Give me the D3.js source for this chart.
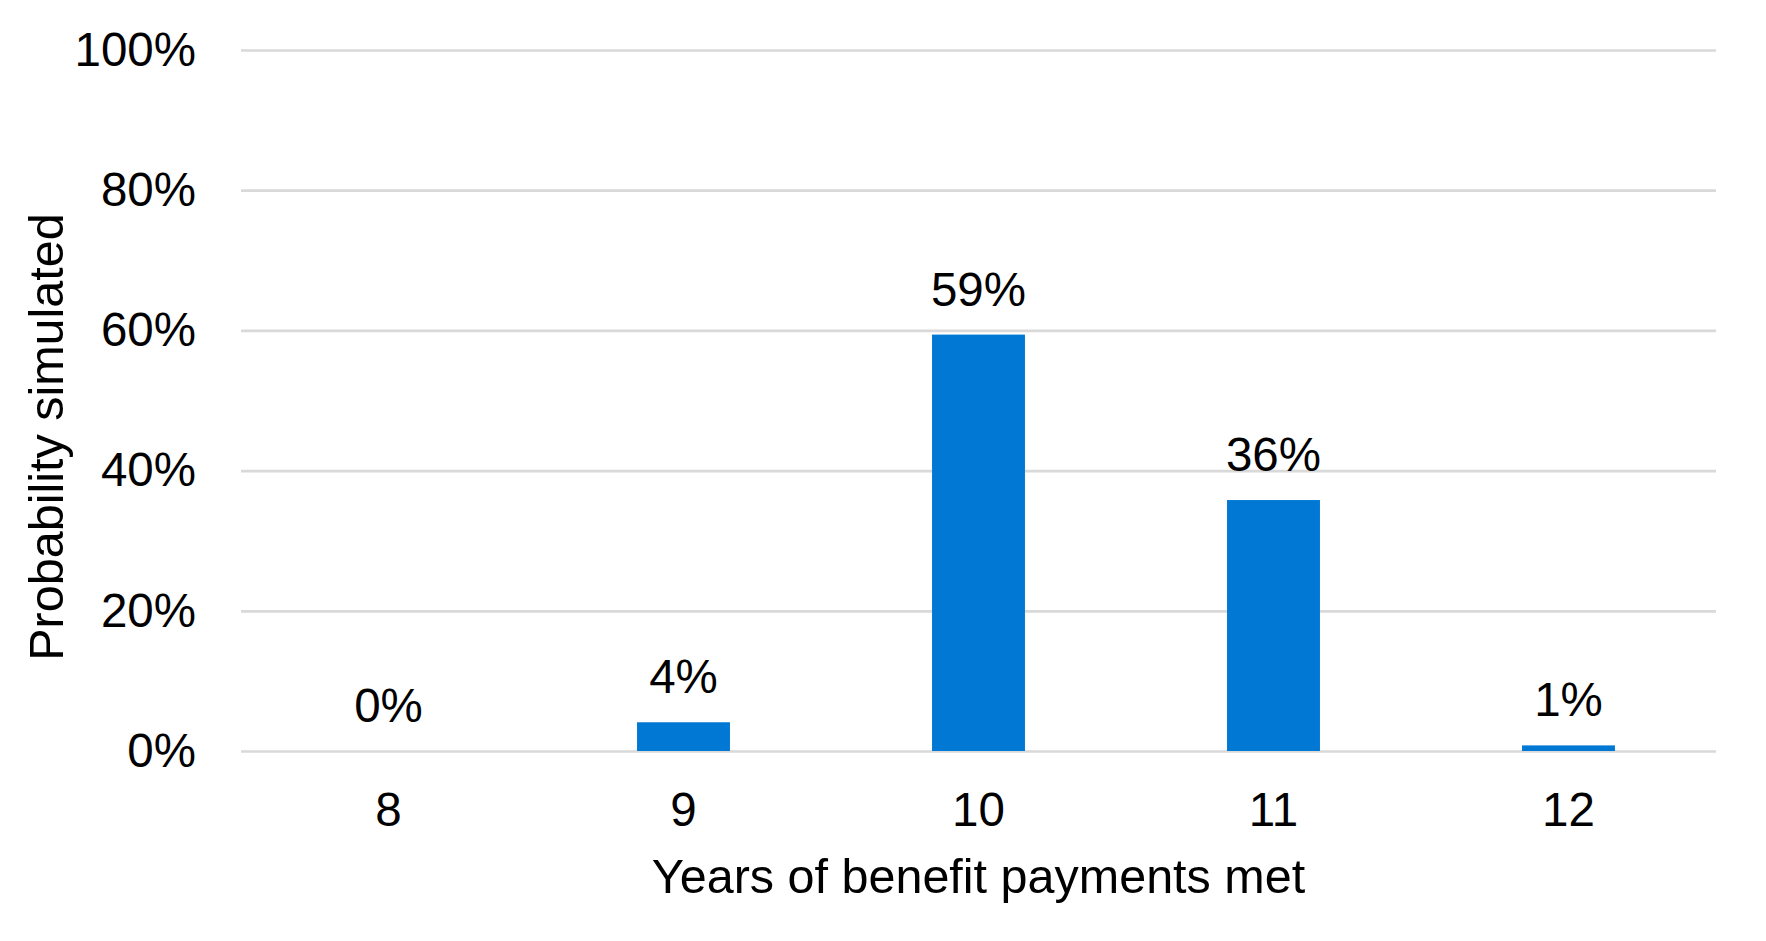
<!DOCTYPE html>
<html>
<head>
<meta charset="utf-8">
<script src="https://cdn.jsdelivr.net/npm/d3@7"></script>
<style>
  body { margin: 0; background: #fff; }
  text { font-family: "Liberation Sans", Arial, sans-serif; fill: #000; }
</style>
</head>
<body>
<div id="chart"></div>
<script>
// Chart data
const years = ["8", "9", "10", "11", "12"];
const probability = [0, 0.041, 0.594, 0.358, 0.008];
const yTicks = [0, 0.2, 0.4, 0.6, 0.8, 1];

const width = 1766;
const height = 941;
const margin = { top: 50, right: 50, bottom: 190, left: 241 };
const fontSize = "47.5px";

const svg = d3.select("#chart").append("svg").attr("width", width).attr("height", height);

const x = d3.scaleBand().domain(years).range([margin.left, width - margin.right]).paddingInner(0.685).paddingOuter(0.3425);
const y = d3.scaleLinear().domain([0, 1]).range([height - margin.bottom, margin.top]);

const pct = d3.format(".0%");

// Gridlines and y tick labels
const yAxis = svg
  .append("g")
  .attr("transform", `translate(${margin.left},0)`)
  .call(d3.axisLeft(y).tickValues(yTicks).tickFormat(pct).tickSize(-(width - margin.left - margin.right)).tickPadding(45));
yAxis.select(".domain").remove();
yAxis.selectAll(".tick line").attr("stroke", "#d9d9d9").attr("stroke-width", 2.7);
yAxis.selectAll(".tick text").style("font-size", fontSize).attr("fill", "#000");

// Bars
svg
  .selectAll(".bar")
  .data(probability)
  .enter()
  .append("rect")
  .attr("class", "bar")
  .attr("x", (d, i) => x(years[i]))
  .attr("width", x.bandwidth())
  .attr("y", (d) => y(d))
  .attr("height", (d) => y(0) - y(d))
  .attr("fill", "#0078d4");

// Data labels
svg
  .selectAll(".label")
  .data(probability)
  .enter()
  .append("text")
  .attr("class", "label")
  .attr("x", (d, i) => x(years[i]) + x.bandwidth() / 2)
  .attr("y", (d) => y(d) - 29)
  .attr("text-anchor", "middle")
  .style("font-size", fontSize)
  .text((d) => pct(d));

// X axis labels
const xAxis = svg
  .append("g")
  .attr("transform", `translate(0,${y(0)})`)
  .call(d3.axisBottom(x).tickSize(0).tickPadding(41));
xAxis.select(".domain").remove();
xAxis.selectAll(".tick text").style("font-size", fontSize).attr("fill", "#000");

// Axis titles
svg
  .append("text")
  .attr("x", (margin.left + width - margin.right) / 2)
  .attr("y", 893)
  .attr("text-anchor", "middle")
  .style("font-size", "48.5px")
  .text("Years of benefit payments met");

svg
  .append("text")
  .attr("transform", "translate(63,437) rotate(-90)")
  .attr("text-anchor", "middle")
  .style("font-size", "48.5px")
  .text("Probability simulated");
</script>
</body>
</html>
